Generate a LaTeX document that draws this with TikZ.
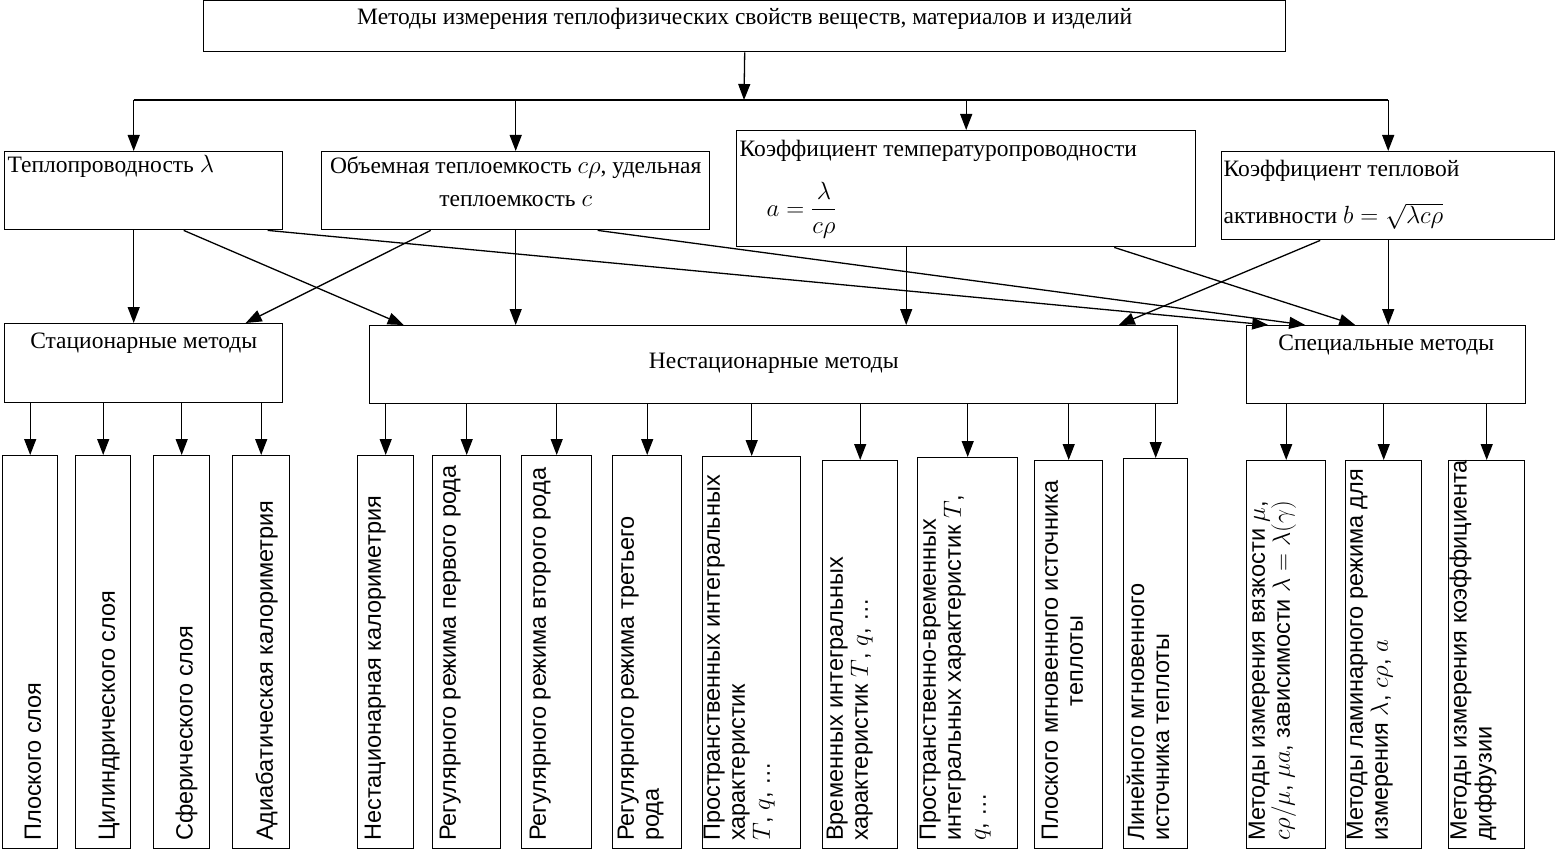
\documentclass[tikz,border=0pt]{standalone}
\usepackage{amsmath}
\usepackage{fontspec}
\setmainfont{Liberation Serif}
\newfontfamily\colfont{Liberation Sans}
\usetikzlibrary{arrows.meta}
\tikzset{
  box/.style={draw, line width=1.4pt, inner sep=0pt, anchor=north west},
  txt/.style={inner sep=0pt, font=\fontsize{23.5}{27}\selectfont},
  coltext/.style={rotate=90, anchor=north west, inner sep=0pt,
    font=\colfont\fontsize{23.5}{25}\selectfont}
}
\begin{document}
\begin{tikzpicture}[x=1pt, y=-1pt, >={Triangle[length=16pt, width=12pt]}, line width=1.3pt]
\useasboundingbox (0,0) rectangle (1555,850);
% top
\node[box, minimum width=1082, minimum height=51] (top) at (203,0) {};
\node[txt, anchor=base] at ([yshift=-25pt]top.north) {Методы измерения теплофизических свойств веществ, материалов и изделий};
\coordinate (bus) at (744,100);

% quantities
\node[box, minimum width=278, minimum height=78] (lam) at (4,151) {};
\node[txt, anchor=base west] at ([xshift=3pt, yshift=-22pt]lam.north west) {Теплопроводность $\lambda$};
\node[box, minimum width=388, minimum height=78] (cap) at (321,151) {};
\node[txt, anchor=north, align=center] at ([yshift=-5pt]cap.north) {Объемная теплоемкость $c\rho$, удельная\\[6pt]теплоемкость $c$};
\node[box, minimum width=459, minimum height=116] (temp) at (736,130) {};
\node[txt, anchor=base west] at ([xshift=3pt, yshift=-27pt]temp.north west) {Коэффициент температуропроводности};
\node[txt, anchor=west, font=\fontsize{32}{36}\selectfont] at ([xshift=30pt, yshift=-80pt]temp.north west) {$a=\dfrac{\lambda}{c\rho}$};
\node[box, minimum width=333, minimum height=88] (akt) at (1221,151) {};
\node[txt, anchor=base west] at ([xshift=2pt, yshift=-26pt]akt.north west) {Коэффициент тепловой};
\node[txt, anchor=base west] at ([xshift=2pt, yshift=-73pt]akt.north west) {активности {\fontsize{27}{30}\selectfont$b=\sqrt{\lambda c\rho}$}};

% groups of methods
\node[box, minimum width=278, minimum height=79] (stat) at (4,323) {};
\node[txt, anchor=base] at ([yshift=-25pt]stat.north) {Стационарные методы};
\node[box, minimum width=808, minimum height=78] (nonst) at (369,325) {};
\node[txt, anchor=base] at ([yshift=-43pt]nonst.north) {Нестационарные методы};
\node[box, minimum width=279, minimum height=78] (spec) at (1246,325) {};
\node[txt, anchor=base] at ([yshift=-25pt]spec.north) {Специальные методы};

% methods
\foreach \n/\xa/\xb/\ya/\dx/\al/\txt in {
  1/2/57/455/22/left/{Плоского слоя},
  2/75/130/455/23/left/{Цилиндрического слоя},
  3/153/209/455/22/left/{Сферического слоя},
  4/232/289/455/23/left/{Адиабатическая калориметрия},
  5/357/413/455/7/left/{Нестационарная калориметрия},
  6/432/500/455/7/left/{Регулярного режима первого рода},
  7/521/591/455/8/left/{Регулярного режима второго рода},
  8/612/681/455/5/left/{Регулярного режима третьего\\рода},
  9/702/800/456/1/left/{Пространственных интегральных\\характеристик\\$T$, $q$, \ldots},
  10/822/897/460/4/left/{Временных интегральных\\характеристик $T$, $q$, \ldots},
  11/917/1017/457/2/left/{Пространственно-временных\\интегральных характеристик $T$,\\$q$, \ldots},
  12/1034/1102/460/7/center/{Плоского мгновенного источника\\теплоты},
  13/1123/1187/458/3/left/{Линейного мгновенного\\источника теплоты},
  14/1246/1325/460/2/left/{Методы измерения вязкости $\mu$,\\$c\rho/\mu$, $\mu a$, зависимости $\lambda=\lambda(\gamma)$},
  15/1345/1421/460/1/left/{Методы ламинарного режима для\\измерения $\lambda$, $c\rho$, $a$},
  16/1448/1524/460/1/left/{Методы измерения коэффициента\\диффузии}}{
  \node[box, minimum width=\xb-\xa, minimum height=848-\ya] (m\n) at (\xa,\ya) {};
  \node[coltext, align=\al] at ([xshift=\dx pt, yshift=8pt]m\n.south west) {\txt};
}

% arrows from the top
\coordinate (lamin) at ([xshift=-10pt]lam.north);
\draw[->] (top.south) -- (bus);
\draw (lamin |- bus) -- (akt.north |- bus);
\draw[->] (lamin |- bus) -- (lamin);
\draw[->] (cap.north |- bus) -- (cap.north);
\draw[->] (temp.north |- bus) -- (temp.north);
\draw[->] (akt.north |- bus) -- (akt.north);

% quantities to groups
\coordinate (lamout) at ([xshift=-10pt]lam.south);
\coordinate (tempout) at ([xshift=-60pt]temp.south);
\draw[->] (lamout) -- (lamout |- stat.north);
\draw[->] ([xshift=40pt]lam.south) -- ([xshift=-370pt]nonst.north);
\draw[->] ([xshift=124pt]lam.south) -- ([xshift=-118pt]spec.north);
\draw[->] ([xshift=-85pt]cap.south) -- ([xshift=102pt]stat.north);
\draw[->] (cap.south) -- (cap.south |- nonst.north);
\draw[->] ([xshift=82pt]cap.south) -- ([xshift=-81pt]spec.north);
\draw[->] (tempout) -- (tempout |- nonst.north);
\draw[->] ([xshift=148pt]temp.south) -- ([xshift=-31pt]spec.north);
\draw[->] ([xshift=-68pt]akt.south) -- ([xshift=345pt]nonst.north);
\draw[->] (akt.south) -- (akt.south |- spec.north);

% groups to methods
\foreach \i in {1,...,4} \draw[->] (m\i.north |- stat.south) -- (m\i.north);
\foreach \i in {5,...,13} \draw[->] (m\i.north |- nonst.south) -- (m\i.north);
\foreach \i in {14,15,16} \draw[->] (m\i.north |- spec.south) -- (m\i.north);
\end{tikzpicture}
\end{document}
